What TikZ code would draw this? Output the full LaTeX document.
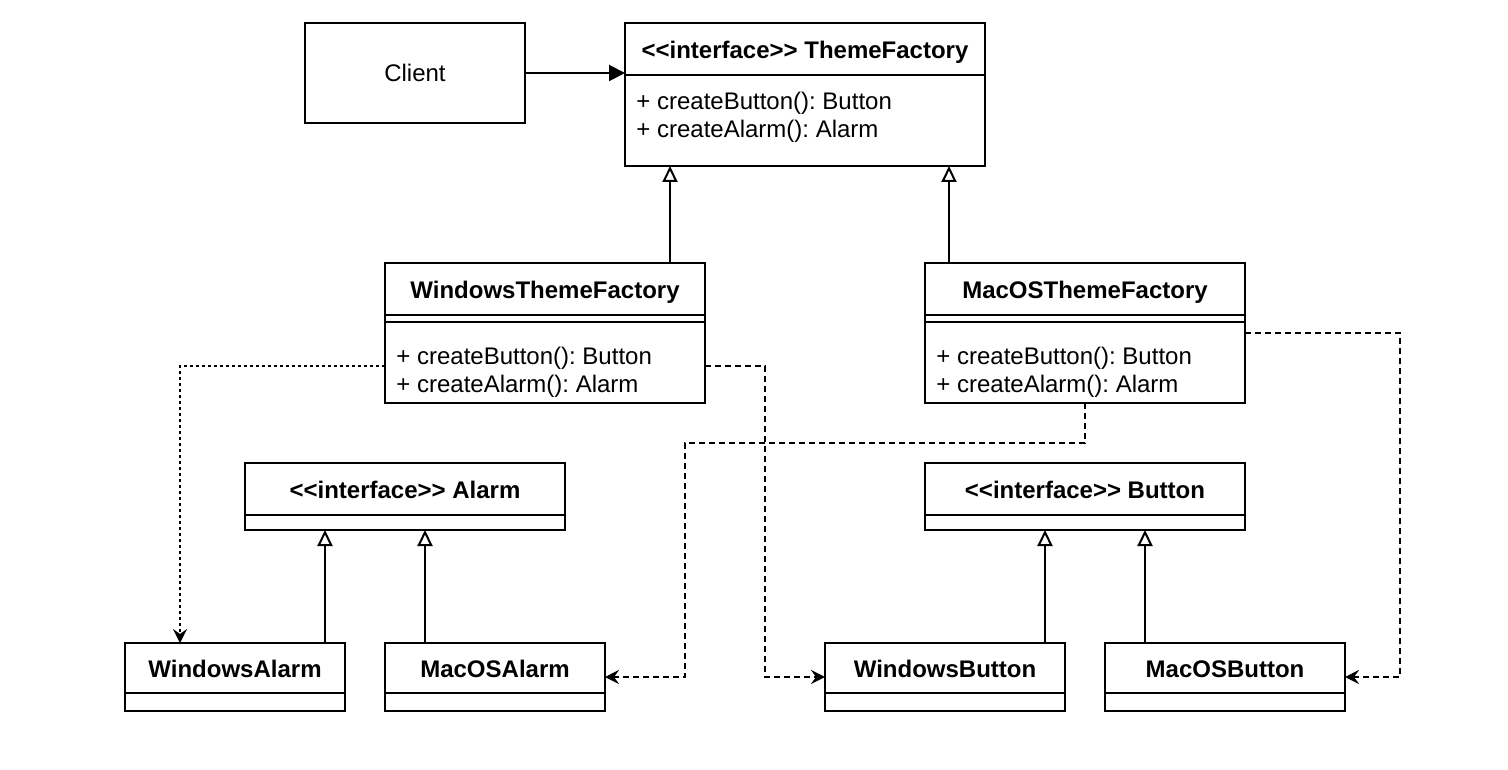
\documentclass[tikz,border=0pt]{standalone}
\usepackage{fontspec}
\setmainfont{Liberation Sans}
\usetikzlibrary{arrows.meta,positioning,calc}
\newcommand\stereo[1]{<\kern0pt<#1>\kern0pt>}
\frenchspacing

\begin{document}
\begin{tikzpicture}[
    x=0.5pt, y=-0.5pt,
    plainbox/.style={draw, line width=1pt, outer sep=0pt, font=\fontsize{12}{14}\selectfont},
    classhead/.style={draw, line width=1pt, outer sep=0pt, inner sep=0pt, minimum height=26pt,
        text height=9.5pt, text depth=0pt, font=\fontsize{12}{14}\selectfont\bfseries},
    compart/.style={draw, line width=1pt, outer sep=0pt, inner sep=0pt},
    methods/.style={anchor=base west, align=left, inner sep=0pt, font=\fontsize{12}{14}\selectfont},
    assoc/.style={line width=1pt, -{Triangle[length=8pt,width=8pt]}},
    inherit/.style={line width=1pt, -{Triangle[open,length=8pt,width=7.5pt]}},
    depend/.style={line width=1pt, dash pattern=on 3pt off 2pt, -{Stealth[length=7pt,width=7pt,inset=2.5pt]}},
]
\useasboundingbox (0,0) rectangle (1508,770);

% client and abstract factory
\node[plainbox, minimum width=110pt, minimum height=50pt] (client) at (415,73) {Client};
\node[classhead, minimum width=180pt] (tf) at (805,49) {\stereo{interface} ThemeFactory};
\node[compart, minimum width=180pt, minimum height=45.5pt, below=0pt of tf] (tfbody) {};
\node[methods] at ([shift={(5.5pt,-31.25pt)}]tfbody.north west) {+ createButton(): Button\\+ createAlarm(): Alarm};

% concrete factories
\node[classhead, minimum width=160pt] (wtf) at (545,289) {WindowsThemeFactory};
\node[compart, minimum width=160pt, minimum height=3.5pt, below=0pt of wtf] (wtfsep) {};
\node[compart, minimum width=160pt, minimum height=40.5pt, below=0pt of wtfsep] (wtfbody) {};
\node[methods] at ([shift={(5.5pt,-35.25pt)}]wtfbody.north west) {+ createButton(): Button\\+ createAlarm(): Alarm};

\node[classhead, minimum width=160pt] (mtf) at (1085,289) {MacOSThemeFactory};
\node[compart, minimum width=160pt, minimum height=3.5pt, below=0pt of mtf] (mtfsep) {};
\node[compart, minimum width=160pt, minimum height=40.5pt, below=0pt of mtfsep] (mtfbody) {};
\node[methods] at ([shift={(5.5pt,-35.25pt)}]mtfbody.north west) {+ createButton(): Button\\+ createAlarm(): Alarm};

% product interfaces
\node[classhead, minimum width=160pt] (alarm) at (405,489) {\stereo{interface} Alarm};
\node[compart, minimum width=160pt, minimum height=7.5pt, below=0pt of alarm] (alarmfoot) {};
\node[classhead, minimum width=160pt] (button) at (1085,489) {\stereo{interface} Button};
\node[compart, minimum width=160pt, minimum height=7.5pt, below=0pt of button] (buttonfoot) {};

% concrete products
\node[classhead, minimum width=110pt, minimum height=25pt] (walarm) at (235,668) {WindowsAlarm};
\node[compart, minimum width=110pt, minimum height=9pt, below=0pt of walarm] (walarmfoot) {};
\node[classhead, minimum width=110pt, minimum height=25pt] (malarm) at (495,668) {MacOSAlarm};
\node[compart, minimum width=110pt, minimum height=9pt, below=0pt of malarm] (malarmfoot) {};
\node[classhead, minimum width=120pt, minimum height=25pt] (wbutton) at (945,668) {WindowsButton};
\node[compart, minimum width=120pt, minimum height=9pt, below=0pt of wbutton] (wbuttonfoot) {};
\node[classhead, minimum width=120pt, minimum height=25pt] (mbutton) at (1225,668) {MacOSButton};
\node[compart, minimum width=120pt, minimum height=9pt, below=0pt of mbutton] (mbuttonfoot) {};

% client uses the factory
\draw[assoc] (client) -- (client -| tfbody.west);

% realisations
\draw[inherit] (wtf.north -| 670,0) -- (tfbody.south -| 670,0);
\draw[inherit] (mtf.north -| 949,0) -- (tfbody.south -| 949,0);
\draw[inherit] (walarm.north -| 325,0) -- (alarmfoot.south -| 325,0);
\draw[inherit] (malarm.north -| 425,0) -- (alarmfoot.south -| 425,0);
\draw[inherit] (wbutton.north -| 1045,0) -- (buttonfoot.south -| 1045,0);
\draw[inherit] (mbutton.north -| 1145,0) -- (buttonfoot.south -| 1145,0);

% factories create products
\draw[depend, dash pattern=on 1.5pt off 1.5pt] ([yshift=-1.75pt]wtfbody.west) -| ([xshift=-27.5pt]walarm.north);
\draw[depend] ([yshift=-1.75pt]wtfbody.east) -- ++(60,0) |- ($(wbutton.north west)!0.5!(wbuttonfoot.south west)$);
\draw[depend] (mtfbody.south) -- ++(0,40) -| ($($(malarm.north east)!0.5!(malarmfoot.south east)$)+(80,0)$)
    -- ($(malarm.north east)!0.5!(malarmfoot.south east)$);
\draw[depend] ([yshift=-5.5pt]mtfbody.north east) -- ++(155,0) |- ($(mbutton.north east)!0.5!(mbuttonfoot.south east)$);
\end{tikzpicture}
\end{document}
